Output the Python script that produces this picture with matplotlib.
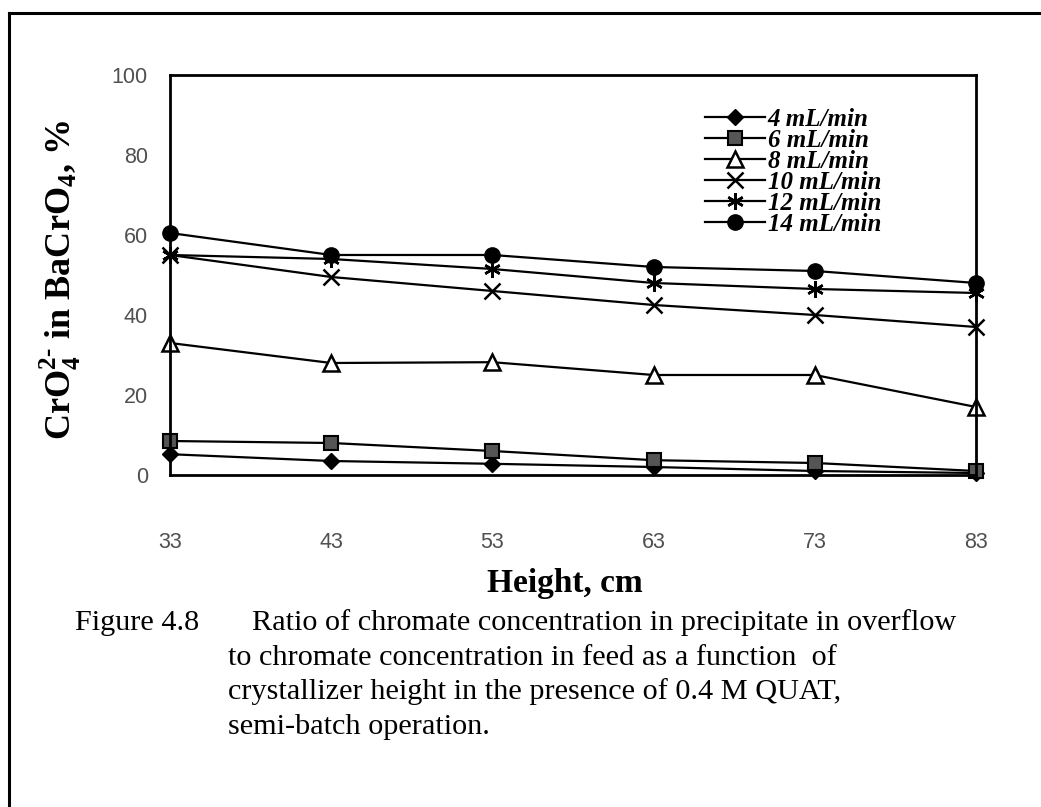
import matplotlib.pyplot as plt
from matplotlib.lines import Line2D

plt.rcParams["mathtext.fontset"] = "custom"
plt.rcParams["mathtext.rm"] = "Liberation Serif:bold"
plt.rcParams["mathtext.bf"] = "Liberation Serif:bold"

# crystallizer sampling heights (cm)
height = [33, 43, 53, 63, 73, 83]

# CrO4 2- in BaCrO4 (%) for each feed rate
rate_4 = [5.2, 3.5, 2.8, 2.0, 1.0, 0.5]
rate_6 = [8.5, 8.0, 6.0, 3.7, 3.0, 1.0]
rate_8 = [33.0, 28.0, 28.2, 25.0, 25.0, 17.0]
rate_10 = [55.0, 49.5, 46.0, 42.5, 40.0, 37.0]
rate_12 = [55.0, 54.0, 51.5, 48.0, 46.5, 45.5]
rate_14 = [60.5, 55.0, 55.0, 52.0, 51.0, 48.0]

labels = ["4 mL/min", "6 mL/min", "8 mL/min", "10 mL/min", "12 mL/min", "14 mL/min"]

serif = ["Liberation Serif", "DejaVu Serif"]
sans = ["Liberation Sans", "DejaVu Sans"]

fig = plt.figure(figsize=(10.41, 8.07), dpi=100)
ax = fig.add_axes([0.1633, 0.4114, 0.7743, 0.4957])

lw = 1.6
common = dict(color="black", lw=lw, clip_on=False)
ax.plot(height, rate_4, marker="D", ms=8, mfc="black", mec="black",
        label=labels[0], **common)
ax.plot(height, rate_6, marker="s", ms=10, mfc="#555555", mec="black", mew=1.5,
        label=labels[1], **common)
ax.plot(height, rate_8, marker="^", ms=11, mfc="white", mec="black", mew=1.8,
        label=labels[2], **common)
ax.plot(height, rate_10, marker="x", ms=11, mec="black", mew=1.8,
        label=labels[3], **common)
ax.plot(height, rate_12, marker=(6, 2, 0), ms=12, mec="black", mew=1.8,
        label=labels[4], **common)
ax.plot(height, rate_14, marker="o", ms=11, mfc="black", mec="black",
        label=labels[5], **common)

ax.set_xlim(33, 83)
ax.set_ylim(0, 100)
ax.set_xticks(height)
ax.set_yticks([0, 20, 40, 60, 80, 100])
ax.tick_params(length=0, labelsize=15.5, labelcolor="#505050")
ax.tick_params(axis="x", pad=41)
ax.tick_params(axis="y", pad=16)
for lab in ax.get_xticklabels() + ax.get_yticklabels():
    lab.set_family(sans)
for sp in ax.spines.values():
    sp.set_linewidth(2)

ax.set_xlabel("Height, cm", family=serif, fontweight="bold", fontsize=24)
ax.xaxis.set_label_coords(0.49, -0.232)
ax.set_ylabel(r"CrO$_4^{2\text{-}}$ in BaCrO$_4$, %",
              family=serif, fontweight="bold", fontsize=26)
ax.yaxis.set_label_coords(-0.108, 0.488)

leg = ax.legend(loc="upper left", bbox_to_anchor=(0.664, 0.918), frameon=False,
                borderpad=0, borderaxespad=0, handlelength=2.4, handletextpad=0.1,
                labelspacing=-0.08,
                prop={"family": serif, "weight": "bold", "style": "italic", "size": 18})

# caption under the chart
cap = dict(family=serif, fontsize=21.8, va="center", ha="left")
fig.text(75 / 1041, 1 - 623 / 807, "Figure 4.8", **cap)
fig.text(252 / 1041, 1 - 623 / 807,
         "Ratio of chromate concentration in precipitate in overflow", **cap)
fig.text(228 / 1041, 1 - 658 / 807,
         "to chromate concentration in feed as a function  of", **cap)
fig.text(228 / 1041, 1 - 692 / 807,
         "crystallizer height in the presence of 0.4 M QUAT,", **cap)
fig.text(228 / 1041, 1 - 727 / 807, "semi-batch operation.", **cap)

# page frame lines
fig.add_artist(Line2D([9 / 1041, 1.0], [1 - 13 / 807, 1 - 13 / 807],
                      color="black", lw=2.2, transform=fig.transFigure))
fig.add_artist(Line2D([9 / 1041, 9 / 1041], [0, 1 - 13 / 807],
                      color="black", lw=2.2, transform=fig.transFigure))

fig.savefig("out.png", dpi=100)
